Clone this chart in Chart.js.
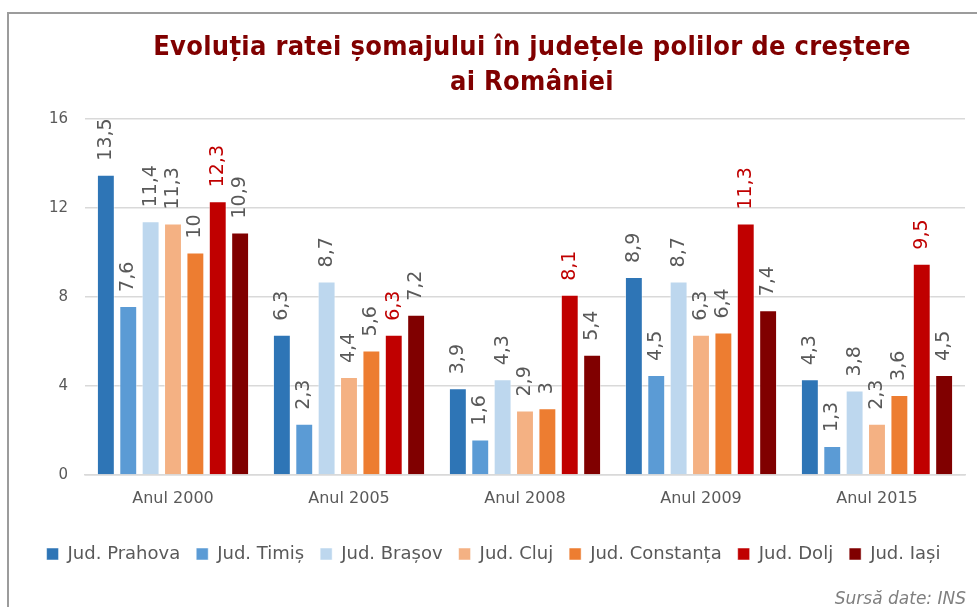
<!DOCTYPE html>
<html lang="ro">
<head>
<meta charset="utf-8">
<title>Evoluția ratei șomajului</title>
<script src="https://cdn.jsdelivr.net/npm/chart.js@4/dist/chart.umd.min.js"></script>
<style>
  html, body { margin: 0; padding: 0; background: #fff; }
  #cadru { position: relative; width: 977px; height: 607px; overflow: hidden; }
  #chenar {
    position: absolute; left: 7px; top: 12px; right: -10px; bottom: -10px;
    border-top: 2px solid #9c9c9c; border-left: 2px solid #9c9c9c;
  }
  #grafic { position: absolute; left: 0; top: 0; }
  #titlu {
    position: absolute; left: 0; top: 28px; width: 1064px; text-align: center;
    font-family: "DejaVu Sans Condensed", "DejaVu Sans", sans-serif;
    font-weight: bold; font-size: 27px; letter-spacing: 0.3px; line-height: 35px; color: #800000;
  }
  #sursa {
    position: absolute; right: 11px; top: 588px;
    font-family: "DejaVu Sans", sans-serif; font-style: italic;
    font-size: 17px; color: #7f7f7f;
  }
</style>
</head>
<body>
<div id="cadru">
  <div id="chenar"></div>
  <canvas id="grafic" width="977" height="607"></canvas>
  <div id="titlu">Evoluția ratei șomajului în județele polilor de creștere<br>ai României</div>
  <div id="sursa">Sursă date: INS</div>
</div>
<script>
// === Date ===
const ani = ["Anul 2000", "Anul 2005", "Anul 2008", "Anul 2009", "Anul 2015"];
const judete = ["Jud. Prahova", "Jud. Timiș", "Jud. Brașov", "Jud. Cluj", "Jud. Constanța", "Jud. Dolj", "Jud. Iași"];

const prahova   = [13.5, 6.3, 3.9, 8.9, 4.3];
const timis     = [7.6, 2.3, 1.6, 4.5, 1.3];
const brasov    = [11.4, 8.7, 4.3, 8.7, 3.8];
const cluj      = [11.3, 4.4, 2.9, 6.3, 2.3];
const constanta = [10, 5.6, 3, 6.4, 3.6];
const dolj      = [12.3, 6.3, 8.1, 11.3, 9.5];
const iasi      = [10.9, 7.2, 5.4, 7.4, 4.5];

const culori = ["#2E75B6", "#5B9BD5", "#BDD7EE", "#F4B183", "#ED7D31", "#C00000", "#800000"];
const serii = [prahova, timis, brasov, cluj, constanta, dolj, iasi];

const GRI = "#595959";

// === Etichete verticale deasupra barelor ===
const eticheteBare = {
  id: "eticheteBare",
  afterDatasetsDraw(chart) {
    const ctx = chart.ctx;
    chart.data.datasets.forEach((ds, i) => {
      chart.getDatasetMeta(i).data.forEach((bar, j) => {
        ctx.save();
        ctx.translate(bar.x, bar.y - 14);
        ctx.rotate(-Math.PI / 2);
        ctx.font = '19px "DejaVu Sans"';
        ctx.fillStyle = i === 5 ? "#C00000" : GRI;
        ctx.textAlign = "left";
        ctx.textBaseline = "middle";
        ctx.fillText(String(ds.data[j]).replace(".", ","), 0, 0);
        ctx.restore();
      });
    });
  }
};

// === Grafic ===
const ctx = document.getElementById("grafic").getContext("2d");
new Chart(ctx, {
  type: "bar",
  data: {
    labels: ani,
    datasets: judete.map((nume, i) => ({
      label: nume,
      data: serii[i],
      backgroundColor: culori[i],
      borderColor: "rgba(255,255,255,0.5)",
      borderWidth: 1,
      categoryPercentage: 0.89,
      barPercentage: 0.8
    }))
  },
  options: {
    responsive: false,
    animation: false,
    layout: { padding: { top: 119, left: 22, right: 12, bottom: 34 } },
    plugins: {
      title: { display: false },
      tooltip: { enabled: false },
      legend: {
        position: "bottom",
        labels: {
          color: GRI,
          font: { family: "DejaVu Sans", size: 18 },
          boxWidth: 12,
          boxHeight: 12,
          padding: 16
        }
      }
    },
    scales: {
      y: {
        min: 0,
        max: 16,
        ticks: { stepSize: 4, color: GRI, padding: 17, font: { family: "DejaVu Sans", size: 15 } },
        grid: { color: "#d9d9d9", lineWidth: 1.5, drawTicks: false },
        border: { display: false },
        afterFit(scale) { scale.width = 63; }
      },
      x: {
        ticks: { color: GRI, padding: 14, font: { family: "DejaVu Sans", size: 16 } },
        grid: { display: false, drawTicks: false },
        border: { color: "#d9d9d9", width: 1.5 },
        afterFit(scale) { scale.height = 54; }
      }
    }
  },
  plugins: [eticheteBare]
});
</script>
</body>
</html>
